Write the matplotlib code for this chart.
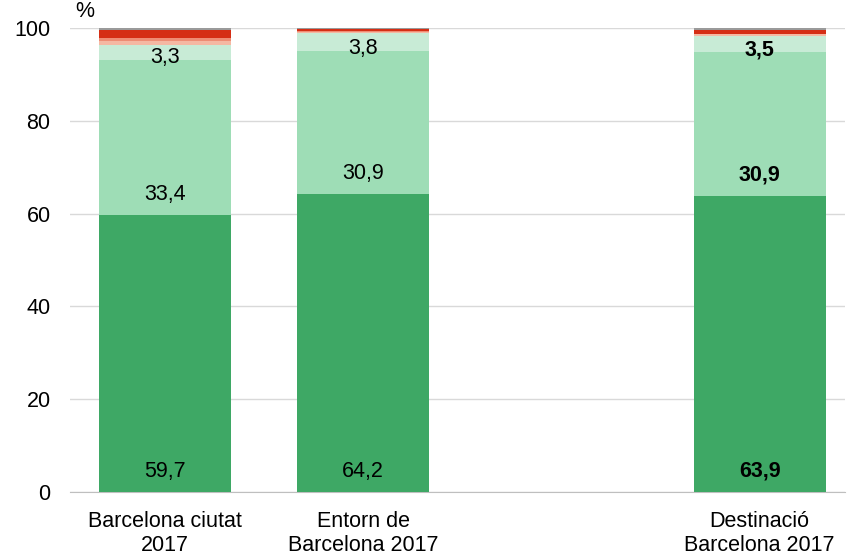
import matplotlib.pyplot as plt
import numpy as np

plt.rcParams['font.family'] = ['Liberation Sans', 'DejaVu Sans']

cats = ['Barcelona ciutat\n2017', 'Entorn de\nBarcelona 2017', '', 'Destinació\nBarcelona 2017']
# segments bottom -> top (empty slot has zeros)
dark_green = [59.7, 64.2, 0, 63.9]
light_green = [33.4, 30.9, 0, 30.9]
pale_green = [3.3, 3.8, 0, 3.5]
light_salmon = [0.8, 0.2, 0, 0.3]
salmon = [0.6, 0.2, 0, 0.2]
red = [1.7, 0.4, 0, 0.8]
grey = [0.5, 0.3, 0, 0.4]

series = [dark_green, light_green, pale_green, light_salmon, salmon, red, grey]
colors = ['#3EA865', '#9EDDB6', '#C8EBD6', '#F5B8A3', '#EE8C74', '#D52E15', '#9A9A9A']
labelled = [0, 1, 2]
bold_bar = 3
fs = 15.5

fig = plt.figure(figsize=(8.47, 5.57), dpi=100)
ax = fig.add_axes([70/847, 1-492/557, 775/847, (492-28)/557])

x = np.arange(len(cats))
bottom = np.zeros(len(cats))
for si, (vals, col) in enumerate(zip(series, colors)):
    vals = np.array(vals, dtype=float)
    ax.bar(x, vals, 0.666, bottom=bottom, color=col, zorder=3)
    if si in labelled:
        for i in range(len(cats)):
            if vals[i] <= 0:
                continue
            off = 4.5 if vals[i] > 10 else 0.5
            ax.text(x[i], bottom[i] + off, ('%.1f' % vals[i]).replace('.', ','),
                    ha='center', va='center', fontsize=fs,
                    fontweight='bold' if i == bold_bar else 'normal', zorder=4)
    bottom += vals

ax.set_xlim(-0.479, 3.43)
ax.set_ylim(0, 100)
ax.set_yticks(range(0, 101, 20))
ax.yaxis.grid(True, color='#D9D9D9', lw=1, zorder=0)
ax.set_xticks(x)
ax.set_xticklabels(cats, fontsize=fs, linespacing=1.15)
ax.tick_params(axis='y', labelsize=fs, length=0, pad=14)
ax.tick_params(axis='x', length=0, pad=14)
for s in ['top', 'right', 'left']:
    ax.spines[s].set_visible(False)
ax.spines['bottom'].set_color('#BFBFBF')
ax.text(-0.45, 101.2, '%', fontsize=fs, ha='left', va='bottom')

fig.savefig('out.png')
